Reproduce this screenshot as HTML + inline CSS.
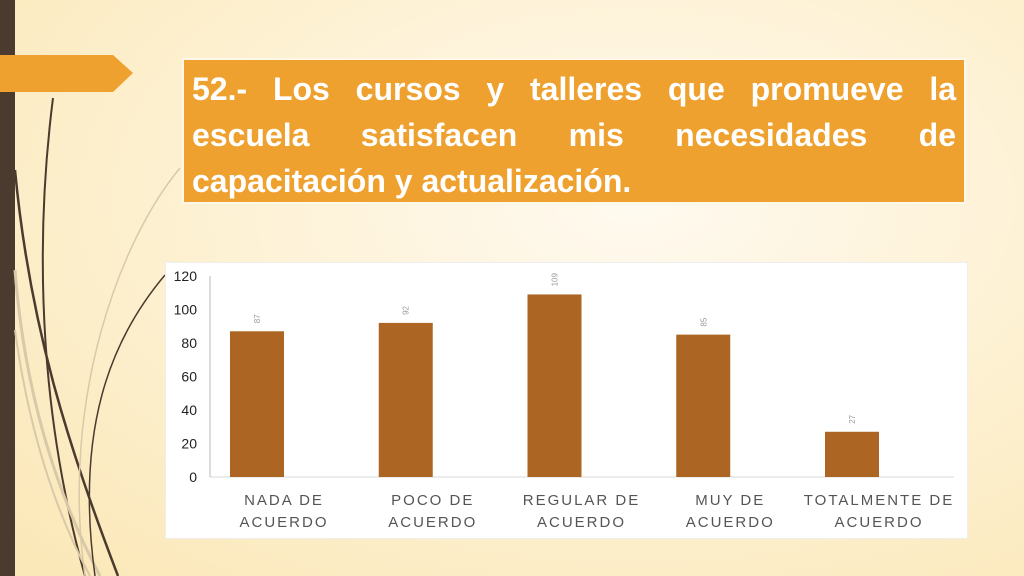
<!DOCTYPE html>
<html><head><meta charset="utf-8">
<style>
body{margin:0;width:1024px;height:576px;overflow:hidden;position:relative;font-family:"Liberation Sans",sans-serif;
background:radial-gradient(ellipse at 62% 35%,#fffaf0 0%,#fdf0cf 55%,#fbe7b6 100%);}
#title{position:absolute;left:182px;top:58px;width:764px;height:142px;background:#efa12f;border:2px solid #fff8e8;padding:0 8px;color:#fff;font-weight:bold;font-size:32px;line-height:46px;box-sizing:content-box;padding-top:6px;height:136px}
#title div{text-align:justify;text-align-last:justify;white-space:nowrap}
#title div.last{text-align-last:left}
#panel{position:absolute;left:165px;top:262px;width:801px;height:275px;background:#fff;border:1px solid #eee}
</style></head><body>
<div style="position:absolute;left:0;top:0;width:15px;height:576px;background:#4b3a2e"></div>
<svg style="position:absolute;left:0;top:0" width="200" height="576">
<polygon points="0,55 113,55 133,73 113,92 0,92" fill="#efa12f"/>
<path d="M53,98 C40,200 30,380 85,576" stroke="#4b3a2e" stroke-width="2" fill="none"/>
<path d="M15,170 C30,330 70,450 118,576" stroke="#4b3a2e" stroke-width="2.5" fill="none"/>
<path d="M15,270 C25,400 60,500 100,576" stroke="#d8c9a8" stroke-width="3" fill="none"/>
<path d="M180,168 C120,240 60,400 85,576" stroke="#d8c9a8" stroke-width="1.5" fill="none"/>
<path d="M165,275 C110,340 75,430 95,576" stroke="#4b3a2e" stroke-width="1.5" fill="none"/>
<path d="M15,330 C30,440 60,520 90,576" stroke="#d8c9a8" stroke-width="2" fill="none"/>
</svg>
<div id="title"><div>52.- Los cursos y talleres que promueve la</div><div>escuela satisfacen mis necesidades de</div><div class="last">capacitación y actualización.</div></div>
<div id="panel"></div>
<svg id="chart" style="position:absolute;left:0;top:0" width="1024" height="576"></svg>
<script>
const categories=[["NADA DE","ACUERDO"],["POCO DE","ACUERDO"],["REGULAR DE","ACUERDO"],["MUY DE","ACUERDO"],["TOTALMENTE DE","ACUERDO"]];
const values=[87,92,109,85,27];
const yTicks=[0,20,40,60,80,100,120];
const NS="http://www.w3.org/2000/svg";
const svg=document.getElementById('chart');
const y=v=>477-v*(201/120);
const xc=i=>257+i*148.75;
function el(t,a){const e=document.createElementNS(NS,t);for(const k in a)e.setAttribute(k,a[k]);svg.appendChild(e);return e;}
let ax=el('line',{x1:210,y1:276,x2:210,y2:477,stroke:'#d0d0d0','stroke-width':1.5});


let bx=el('line',{x1:210,y1:477,x2:954,y2:477,stroke:'#d9d9d9','stroke-width':1});


yTicks.forEach(v=>{const t=el('text',{x:197,y:y(v)+5,'text-anchor':'end','font-size':14,fill:'#222'});t.textContent=v;

});
values.forEach((v,i)=>{
const r=el('rect',{x:xc(i)-27,y:y(v),width:54,height:477-y(v),fill:'#ad6523'});


const lx=xc(i)+3,ly=y(v)-8;
const t=el('text',{x:lx,y:ly,'font-size':8,fill:'#999','text-anchor':'start',transform:`rotate(-90 ${lx} ${ly})`});t.textContent=v;


categories[i].forEach((s,j)=>{const c=el('text',{x:xc(i)+27,y:505+j*22,'text-anchor':'middle','font-size':15,fill:'#555','letter-spacing':'2'});c.textContent=s;

});
});
</script>
</body></html>
